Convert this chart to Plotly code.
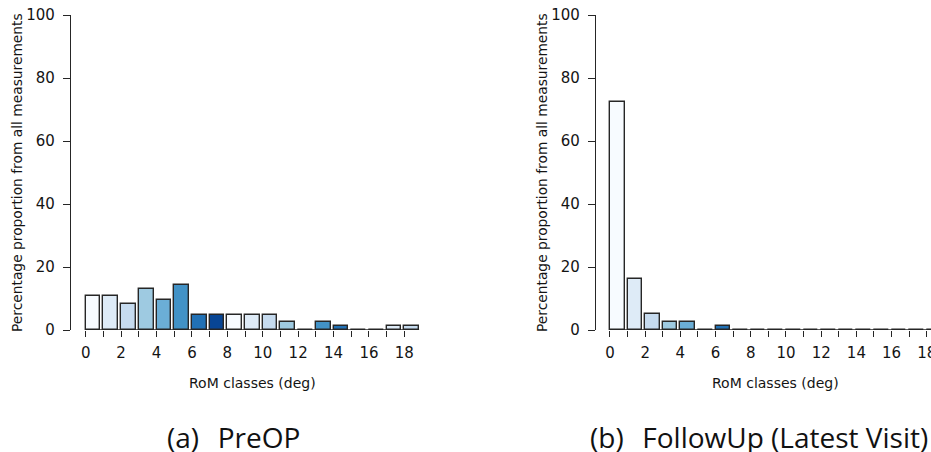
import plotly.graph_objects as go

# RoM class index (deg) and share of all measurements per class (%)
rom_classes = list(range(19))
preop_pct = [10.7, 10.7, 8.3, 13.1, 9.5, 14.3, 4.8, 4.8, 4.8, 4.8, 4.8, 2.4, 0.0,
             2.4, 1.2, 0.0, 0.0, 1.2, 1.2]
followup_pct = [72.5, 16.2, 5.1, 2.5, 2.5, 0.0, 1.3, 0.0, 0.0, 0.0, 0.0, 0.0, 0.0,
                0.0, 0.0, 0.0, 0.0, 0.0, 0.0]
x_tick_labels = [str(v) if v % 2 == 0 else "" for v in rom_classes]
y_ticks = [0, 20, 40, 60, 80, 100]
captions = ["(a)\u2002\u2009PreOP", "(b)\u2002\u2009FollowUp (Latest Visit)"]

# Brewer "Blues" (8 classes), recycled along the bars
blues8 = ["#F7FBFF", "#DEEBF7", "#C6DBEF", "#9ECAE1",
          "#6BAED6", "#4292C6", "#2171B5", "#084594"]

W, H = 931, 452
BAR_W = 1 / 1.2
INK = "#262626"
TXT = "#141414"
FONT = "DejaVu Sans"


def px(x):
    return x / W


def py(y):
    return 1 - y / H


bar_colors = [blues8[i % len(blues8)] for i in range(len(rom_classes))]
centers = [c + BAR_W / 2 for c in rom_classes]

fig = go.Figure()
for k, vals in enumerate([preop_pct, followup_pct]):
    sfx = "" if k == 0 else "2"
    fig.add_trace(go.Bar(
        x=centers, y=vals, width=BAR_W,
        marker=dict(color=bar_colors, line=dict(color=INK, width=1.4)),
        xaxis="x" + sfx, yaxis="y" + sfx, showlegend=False,
    ))
    # bar baseline (visible under empty classes as well)
    fig.add_shape(type="line", xref="x" + sfx, yref="y" + sfx,
                  x0=rom_classes[0], x1=rom_classes[-1] + BAR_W, y0=0, y1=0,
                  line=dict(color=INK, width=1.5), layer="above")

ydom = [py(330), py(15)]
xaxis_common = dict(
    tickmode="array", tickvals=rom_classes, ticktext=x_tick_labels,
    ticks="outside", ticklen=6, tickwidth=1.3, tickcolor=INK,
    showline=False, showgrid=False, zeroline=False,
    tickfont=dict(family=FONT, size=15, color=TXT),
    ticklabelstandoff=3, ticklabeloverflow="allow", automargin=False,
)
yaxis_common = dict(
    range=[0, 100], tickmode="array", tickvals=y_ticks,
    ticks="outside", ticklen=7, tickwidth=1.3, tickcolor=INK,
    showline=True, linecolor=INK, linewidth=1.3,
    showgrid=False, zeroline=False,
    tickfont=dict(family=FONT, size=15, color=TXT),
    ticklabelstandoff=5, automargin=False,
)

fig.update_layout(
    width=W, height=H,
    margin=dict(l=0, r=0, t=0, b=0),
    paper_bgcolor="white", plot_bgcolor="white",
    bargap=0,
    xaxis=dict(domain=[px(71), px(421)], range=[-0.83, 18.94], anchor="y", **xaxis_common),
    yaxis=dict(domain=ydom, anchor="x", **yaxis_common),
    xaxis2=dict(domain=[px(596), 1.0], range=[-0.795, 18.24], anchor="y2", **xaxis_common),
    yaxis2=dict(domain=ydom, anchor="x2", **yaxis_common),
)

annotations = []
for xt, xy in [(252, 17), (775, 542)]:
    annotations.append(dict(
        text="RoM classes (deg)", x=px(xt), y=py(383), xref="paper", yref="paper",
        showarrow=False, font=dict(family=FONT, size=14, color=TXT),
        xanchor="center", yanchor="middle"))
    annotations.append(dict(
        text="Percentage proportion from all measurements", x=px(xy), y=py(173),
        xref="paper", yref="paper", textangle=-90, showarrow=False,
        font=dict(family=FONT, size=13.8, color=TXT),
        xanchor="center", yanchor="middle"))
for cap, cx in zip(captions, [165, 588]):
    annotations.append(dict(
        text=cap, x=px(cx), y=py(437), xref="paper", yref="paper",
        showarrow=False, font=dict(family="Open Sans", size=28, color="#111111"),
        xanchor="left", yanchor="middle"))
fig.update_layout(annotations=annotations)

fig.write_html("out.html")
